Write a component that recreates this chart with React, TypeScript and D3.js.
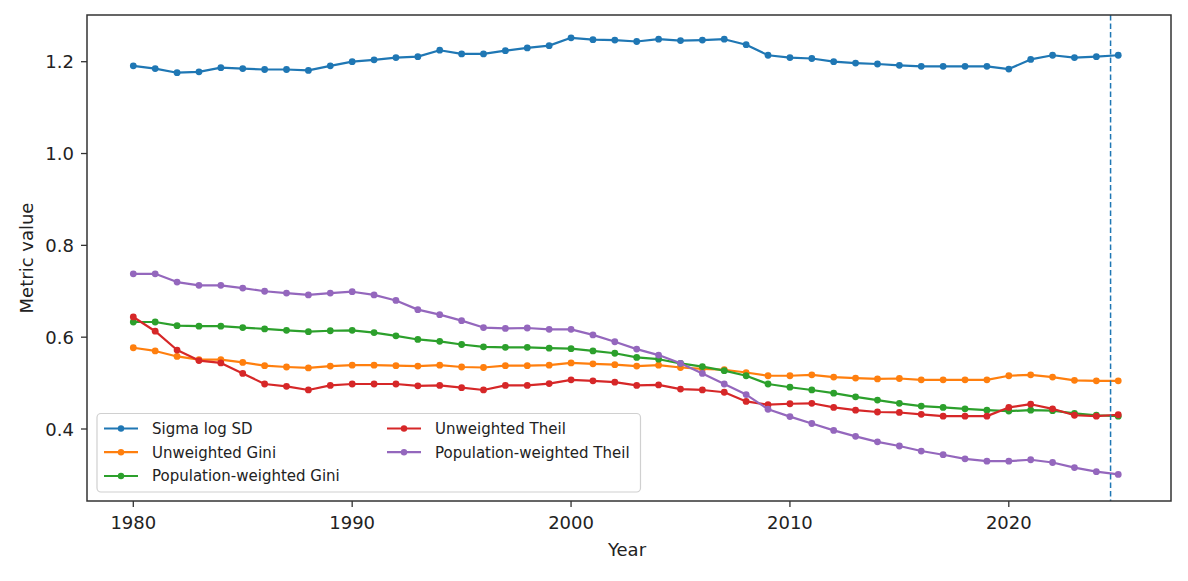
import React from "react";
import * as d3 from "d3";

const years: number[] = d3.range(1980, 2026);

const sigmaLogSD = [
  1.191, 1.185, 1.176, 1.178, 1.187, 1.185, 1.183, 1.183, 1.181, 1.191,
  1.2, 1.204, 1.209, 1.211, 1.225, 1.217, 1.217, 1.224, 1.23, 1.235,
  1.252, 1.248, 1.247, 1.244, 1.249, 1.246, 1.247, 1.249, 1.237, 1.214,
  1.209, 1.207, 1.2, 1.197, 1.195, 1.192, 1.19, 1.19, 1.19, 1.19,
  1.184, 1.205, 1.214, 1.209, 1.211, 1.214,
];
const unweightedGini = [
  0.577, 0.57, 0.558, 0.551, 0.551, 0.545, 0.538, 0.535, 0.533, 0.537,
  0.539, 0.539, 0.538, 0.537, 0.539, 0.535, 0.534, 0.538, 0.538, 0.539,
  0.544, 0.542, 0.54, 0.537, 0.539, 0.534, 0.531, 0.529, 0.523, 0.516,
  0.516, 0.518, 0.513, 0.511, 0.509, 0.51, 0.507, 0.507, 0.507, 0.507,
  0.516, 0.518, 0.513, 0.506, 0.505, 0.505,
];
const popWeightedGini = [
  0.633, 0.633, 0.625, 0.624, 0.624, 0.621, 0.618, 0.615, 0.612, 0.614,
  0.615, 0.61, 0.603, 0.595, 0.591, 0.584, 0.579, 0.578, 0.578, 0.576,
  0.575, 0.57, 0.565, 0.556, 0.552, 0.543, 0.536, 0.527, 0.516, 0.498,
  0.491, 0.485, 0.478, 0.47, 0.463, 0.456, 0.45, 0.447, 0.444, 0.441,
  0.439, 0.441, 0.44, 0.434, 0.43, 0.428,
];
const unweightedTheil = [
  0.644, 0.613, 0.572, 0.549, 0.544, 0.521, 0.498, 0.493, 0.485, 0.495,
  0.498, 0.498, 0.498, 0.494, 0.495, 0.49, 0.485, 0.495, 0.495, 0.499,
  0.507, 0.505, 0.502, 0.495, 0.496, 0.487, 0.485, 0.48, 0.46, 0.453,
  0.455, 0.456, 0.447, 0.441, 0.437, 0.436, 0.432, 0.428, 0.428, 0.428,
  0.447, 0.454, 0.444, 0.43, 0.428, 0.431,
];
const popWeightedTheil = [
  0.738, 0.738, 0.72, 0.713, 0.713, 0.707, 0.7, 0.696, 0.692, 0.696,
  0.699, 0.692, 0.68, 0.66, 0.649, 0.636, 0.621, 0.619, 0.62, 0.617,
  0.617, 0.605, 0.59, 0.574, 0.561, 0.543, 0.521, 0.498, 0.475, 0.443,
  0.427, 0.412, 0.397, 0.384, 0.372, 0.363, 0.352, 0.344, 0.335, 0.33,
  0.33, 0.333, 0.327, 0.316, 0.307, 0.301,
];

const seriesNames = [
  "Sigma log SD",
  "Unweighted Gini",
  "Population-weighted Gini",
  "Unweighted Theil",
  "Population-weighted Theil",
];
const seriesValues = [sigmaLogSD, unweightedGini, popWeightedGini, unweightedTheil, popWeightedTheil];
const seriesColors = ["#1f77b4", "#ff7f0e", "#2ca02c", "#d62728", "#9467bd"];

const xTicks = [1980, 1990, 2000, 2010, 2020];
const yTicks = [0.4, 0.6, 0.8, 1.0, 1.2];
const cutoffYear = 2024.65;

const W = 1188;
const H = 581;
const frame = { left: 87, right: 1171, top: 15, bottom: 501 };
const FONT = "DejaVu Sans, sans-serif";

export default function App() {
  const x = d3.scaleLinear().domain([1980, 2020]).range([133.3, 1008.8]);
  const y = d3.scaleLinear().domain([0.4, 1.2]).range([429, 61.7]);
  const line = d3
    .line<number>()
    .x((_, i) => x(years[i]))
    .y((d) => y(d));

  const legendCols = [
    { hx: 104, tx: 152, items: [0, 1, 2] },
    { hx: 387, tx: 435, items: [3, 4] },
  ];
  const rowY = [428.5, 452.2, 476];

  return (
    <svg
      width={W}
      height={H}
      style={{ position: "absolute", left: 0, top: 0, background: "#fff" }}
      fontFamily={FONT}
    >
      <rect x={0} y={0} width={W} height={H} fill="#fff" />
      <defs>
        <clipPath id="plotclip">
          <rect x={frame.left} y={frame.top} width={frame.right - frame.left} height={frame.bottom - frame.top} />
        </clipPath>
      </defs>

      <g clipPath="url(#plotclip)">
        {seriesValues.map((vals, si) => (
          <g key={si}>
            <path d={line(vals) || ""} fill="none" stroke={seriesColors[si]} strokeWidth={2.2} strokeLinejoin="round" />
            {vals.map((v, i) => (
              <circle key={i} cx={x(years[i])} cy={y(v)} r={3.4} fill={seriesColors[si]} />
            ))}
          </g>
        ))}
        <line
          x1={x(cutoffYear)}
          x2={x(cutoffYear)}
          y1={frame.top}
          y2={frame.bottom}
          stroke="#1f77b4"
          strokeWidth={1.5}
          strokeDasharray="5.5,3"
        />
      </g>

      {/* frame */}
      <rect
        x={frame.left}
        y={frame.top}
        width={frame.right - frame.left}
        height={frame.bottom - frame.top}
        fill="none"
        stroke="#333"
        strokeWidth={1.5}
      />

      {/* x ticks */}
      {xTicks.map((t) => (
        <g key={t}>
          <line x1={x(t)} x2={x(t)} y1={frame.bottom} y2={frame.bottom + 6} stroke="#333" strokeWidth={1.3} />
          <text x={x(t)} y={529} textAnchor="middle" fontSize={18} fill="#222">
            {t}
          </text>
        </g>
      ))}
      {/* y ticks */}
      {yTicks.map((t) => (
        <g key={t}>
          <line x1={frame.left - 6} x2={frame.left} y1={y(t)} y2={y(t)} stroke="#333" strokeWidth={1.3} />
          <text x={74} y={y(t) + 6.5} textAnchor="end" fontSize={18} fill="#222">
            {t.toFixed(1)}
          </text>
        </g>
      ))}

      <text x={627} y={556} textAnchor="middle" fontSize={18} fill="#222">
        Year
      </text>
      <text
        transform={`translate(33,258) rotate(-90)`}
        textAnchor="middle"
        fontSize={18}
        fill="#222"
      >
        Metric value
      </text>

      {/* legend */}
      <rect x={97} y={413.5} width={543.5} height={78.5} rx={4} fill="#fff" fillOpacity={0.85} stroke="#d0d0d0" strokeWidth={1.2} />
      {legendCols.map((col, ci) => (
        <g key={ci}>
          {col.items.map((si, ri) => (
            <g key={si}>
              <line x1={col.hx} x2={col.hx + 34} y1={rowY[ri]} y2={rowY[ri]} stroke={seriesColors[si]} strokeWidth={2.2} />
              <circle cx={col.hx + 17} cy={rowY[ri]} r={3.2} fill={seriesColors[si]} />
              <text x={col.tx} y={rowY[ri] + 5.3} fontSize={15} fill="#222">
                {seriesNames[si]}
              </text>
            </g>
          ))}
        </g>
      ))}
    </svg>
  );
}
